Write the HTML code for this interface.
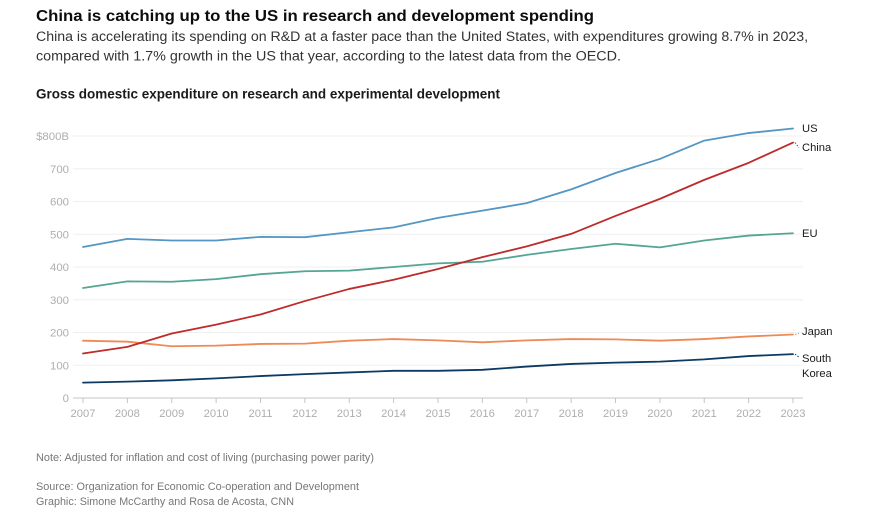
<!DOCTYPE html>
<html>
<head>
<meta charset="utf-8">
<style>
html,body{margin:0;padding:0;background:#fff;width:871px;height:525px;overflow:hidden}
svg{display:block;font-family:"Liberation Sans",sans-serif}
</style>
</head>
<body>
<svg id="chart" width="871" height="525" viewBox="0 0 871 525" xmlns="http://www.w3.org/2000/svg">
  <rect width="871" height="525" fill="#fff"/>
  <text x="36" y="21" font-size="15.5" font-weight="700" fill="#0c0c0c" textLength="558" lengthAdjust="spacingAndGlyphs">China is catching up to the US in research and development spending</text>
  <text x="36" y="41" font-size="13.5" fill="#333333" textLength="772" lengthAdjust="spacingAndGlyphs">China is accelerating its spending on R&amp;D at a faster pace than the United States, with expenditures growing 8.7% in 2023,</text>
  <text x="36" y="60.5" font-size="13.5" fill="#333333" textLength="585" lengthAdjust="spacingAndGlyphs">compared with 1.7% growth in the US that year, according to the latest data from the OECD.</text>
  <text x="36" y="98.5" font-size="13.5" font-weight="700" fill="#1a1a1a" textLength="464" lengthAdjust="spacingAndGlyphs">Gross domestic expenditure on research and experimental development</text>
  <g id="grid"></g>
  <g id="axes"></g>
  <g id="series"></g>
  <g id="labels"></g>
  <text x="36" y="461" font-size="11" fill="#777777" textLength="338" lengthAdjust="spacingAndGlyphs">Note: Adjusted for inflation and cost of living (purchasing power parity)</text>
  <text x="36" y="490" font-size="11" fill="#777777" textLength="323" lengthAdjust="spacingAndGlyphs">Source: Organization for Economic Co-operation and Development</text>
  <text x="36" y="505" font-size="11" fill="#777777" textLength="258" lengthAdjust="spacingAndGlyphs">Graphic: Simone McCarthy and Rosa de Acosta, CNN</text>
</svg>
<script>
const years = [2007,2008,2009,2010,2011,2012,2013,2014,2015,2016,2017,2018,2019,2020,2021,2022,2023];
const yTicks = [0,100,200,300,400,500,600,700,800];
const yTickLabels = ['0','100','200','300','400','500','600','700','$800B'];
const usValues = [461,486,481,481,492,491,506,521,550,572,595,637,687,730,786,809,823];
const chinaValues = [136,156,197,224,255,296,333,361,394,430,463,501,556,608,666,718,780];
const euValues = [336,356,355,363,378,387,389,400,411,416,437,455,471,460,481,496,503];
const japanValues = [175,172,158,160,165,166,175,180,176,170,176,180,179,175,180,188,194];
const southKoreaValues = [47,50,54,60,67,73,78,83,83,86,96,104,108,111,118,128,134];

const NS = 'http://www.w3.org/2000/svg';
const xScale = year => 83 + (year - 2007) * (793 - 83) / (2023 - 2007);
const yScale = value => 398 - value * (398 - 136) / 800;
function make(tag, attrs, parent, text) {
  const el = document.createElementNS(NS, tag);
  for (const k in attrs) el.setAttribute(k, attrs[k]);
  if (text !== undefined) el.textContent = text;
  parent.appendChild(el);
  return el;
}
const grid = document.getElementById('grid');
const axes = document.getElementById('axes');
const seriesG = document.getElementById('series');
const labels = document.getElementById('labels');

yTicks.forEach((t, i) => {
  if (t !== 0) {
    const line = make('line', {x1: 73, x2: 803, y1: yScale(t), y2: yScale(t), stroke: '#efefef', 'stroke-width': 1}, grid);
    
    
  }
  const lab = make('text', {x: 69, y: yScale(t) + 4, 'font-size': 11.4, fill: '#aeaeae', 'text-anchor': 'end'}, axes, yTickLabels[i]);
  
  
});
const base = make('line', {x1: 73, x2: 803, y1: yScale(0), y2: yScale(0), stroke: '#c4c4c4', 'stroke-width': 1}, axes);


years.forEach(y => {
  const tick = make('line', {x1: xScale(y), x2: xScale(y), y1: yScale(0), y2: yScale(0) + 5, stroke: '#c4c4c4', 'stroke-width': 1}, axes);
  
  
  const lab = make('text', {x: xScale(y), y: 417, 'font-size': 11.2, fill: '#aeaeae', 'text-anchor': 'middle'}, axes, String(y));
  
  
});

function drawLine(values, color, name) {
  const d = values.map((v, i) => (i ? 'L' : 'M') + xScale(years[i]).toFixed(2) + ' ' + yScale(v).toFixed(2)).join(' ');
  const p = make('path', {d: d, fill: 'none', stroke: color, 'stroke-width': 1.8, 'stroke-linejoin': 'round', 'stroke-linecap': 'round'}, seriesG);
  
  
}
drawLine(usValues, '#5496c4', 'us-line');
drawLine(euValues, '#55a593', 'eu-line');
drawLine(japanValues, '#ee8a55', 'japan-line');
drawLine(southKoreaValues, '#0d3a63', 'south-korea-line');
drawLine(chinaValues, '#bd2b2b', 'china-line');

function leader(value, dy, color) {
  const l = make('line', {x1: xScale(2023) + 2, x2: 799, y1: yScale(value), y2: yScale(value) + dy, stroke: color, 'stroke-width': 1, 'stroke-dasharray': '1.5 1.5'}, labels);
  
  
}
leader(chinaValues[16], 5, '#bd2b2b');
leader(japanValues[16], -1, '#ee8a55');
leader(southKoreaValues[16], 3, '#0d3a63');

function label(text, y, name) {
  const t = make('text', {x: 802, y: y, 'font-size': 11.2, fill: '#1a1a1a'}, labels, text);
  
  
}
label('US', 132, 'us-label');
label('China', 151, 'china-label');
label('EU', 237, 'eu-label');
label('Japan', 335, 'japan-label');
label('South', 362, 'south-korea-label-line-1');
label('Korea', 377, 'south-korea-label-line-2');
</script>
</body>
</html>
